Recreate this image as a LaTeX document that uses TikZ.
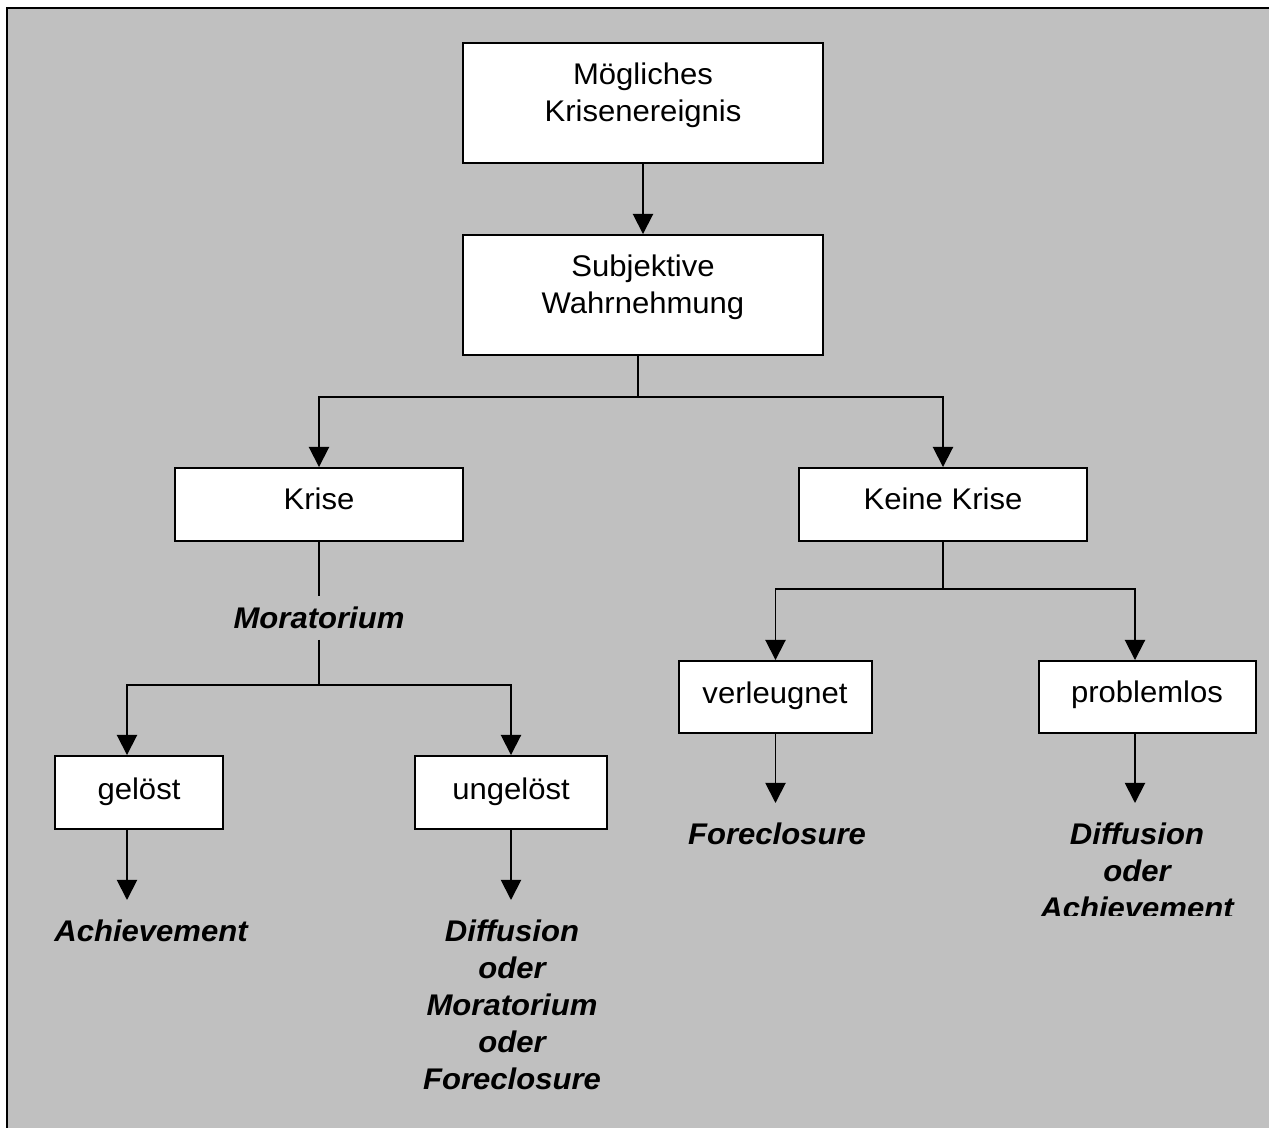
\documentclass[tikz,border=0pt]{standalone}
\usepackage{fontspec}
\setmainfont{Liberation Sans}[FakeStretch=1.04]
\usetikzlibrary{arrows.meta,fit}
\definecolor{panel}{HTML}{C0C0C0}
\begin{document}
\begin{tikzpicture}[x=0.02cm,y=-0.02cm,
  line width=1.1pt,
  panelbox/.style={draw=black, fill=white, inner sep=0pt, line width=1.1pt},
  boxtext/.style={anchor=north, inner sep=0pt, align=center, font=\fontsize{17}{21}\selectfont},
  outcome/.style={anchor=north, inner sep=0pt, align=center, font=\fontsize{17}{21}\selectfont\bfseries\itshape},
  arr/.style={-{Triangle[width=11.5pt,length=11.5pt]}},
  gap/.style={shorten >=0.38cm}]

% canvas and frame
\useasboundingbox (0,0) rectangle (1269,1128);
\fill[panel] (7,8) rectangle (1269,1128);
\draw[line width=1.3pt] (7,1128) -- (7,8) -- (1269,8);

% boxes
\node[panelbox, fit={(463,43) (823,163)}] (b1) {};
\node[boxtext] (t1) at (643,62) {Mögliches\\Krisenereignis};
\node[panelbox, fit={(463,235) (823,355)}] (b2) {};
\node[boxtext] (t2) at (643,254) {Subjektive\\Wahrnehmung};
\node[panelbox, fit={(175,468) (463,541)}] (krise) {};
\node[boxtext] (t3) at (319,487) {Krise};
\node[panelbox, fit={(799,468) (1087,541)}] (keine) {};
\node[boxtext] (t4) at (943,487) {Keine Krise};
\node[panelbox, fit={(55,756) (223,829)}] (geloest) {};
\node[boxtext] (t5) at (139,777) {gelöst};
\node[panelbox, fit={(415,756) (607,829)}] (ungeloest) {};
\node[boxtext] (t6) at (511,777) {ungelöst};
\node[panelbox, fit={(679,661) (872,733)}] (verl) {};
\node[boxtext] (t7) at (775,681) {verleugnet};
\node[panelbox, fit={(1039,661) (1256,733)}] (probl) {};
\node[boxtext] (t8) at (1147,680) {problemlos};

% inline status label
\node[font=\fontsize{17}{21}\selectfont\bfseries\itshape, inner xsep=0pt, inner ysep=0.2cm] (mora) at (319,618) {Moratorium};

% outcomes
\node[outcome] (ach) at (151,919) {Achievement};
\node[outcome] (dmf) at (512,919) {Diffusion\\oder\\Moratorium\\oder\\Foreclosure};
\node[outcome] (fore) at (777,822) {Foreclosure};
\begin{scope}
  \clip (1000,740) rectangle (1269,915);
  \node[outcome] (dfa) at (1137,822) {Diffusion\\oder\\Achievement};
\end{scope}

% connectors
\draw[arr] (b1.south) -- (b2.north);
\coordinate (split) at (638,397);
\draw (b2.south -| split) -- (split);
\draw[arr] (split) -| (krise.north);
\draw[arr] (split) -| (keine.north);

\draw (krise.south) -- (mora.north);
\coordinate (lsplit) at (319,685);
\draw (mora.south) -- (lsplit);
\coordinate (gcol) at (127,685);
\draw[arr] (lsplit) -- (gcol) -- (gcol |- geloest.north);
\draw[arr] (lsplit) -| (ungeloest.north);
\draw[arr,gap] (gcol |- geloest.south) -- (gcol |- ach.north);
\draw[arr,gap] (ungeloest.south) -- (ungeloest.south |- dmf.north);

\coordinate (rsplit) at (943,589);
\draw (keine.south) -- (rsplit);
\draw[arr] (rsplit) -| (verl.north);
\coordinate (pcol) at (1135,589);
\draw[arr] (rsplit) -- (pcol) -- (pcol |- probl.north);
\draw[arr,gap] (verl.south) -- (verl.south |- fore.north);
\draw[arr,gap] (pcol |- probl.south) -- (pcol |- dfa.north);
\end{tikzpicture}
\end{document}
